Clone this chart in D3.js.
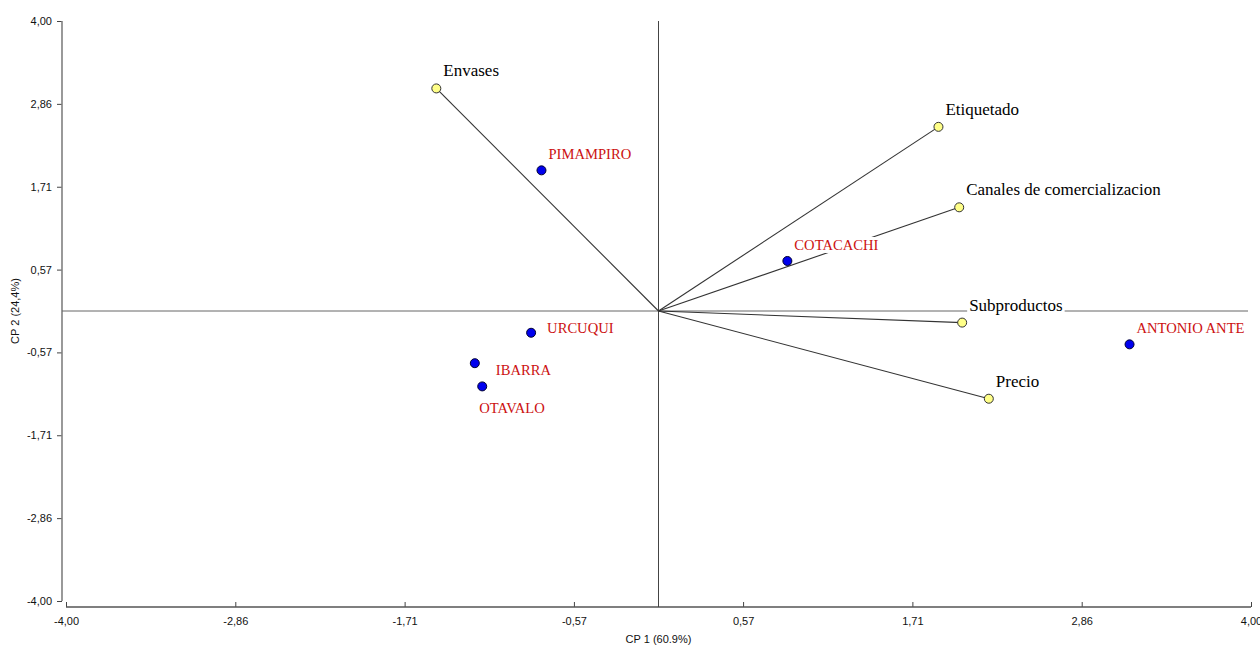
<!DOCTYPE html>
<html>
<head>
<meta charset="utf-8">
<script src="https://cdn.jsdelivr.net/npm/d3@7"></script>
<style>
  html, body { margin: 0; padding: 0; background: #fff; }
  svg { display: block; }
</style>
</head>
<body>
<svg id="chart" width="1260" height="645"></svg>
<script>
// ---- data ----
const variables = ["Envases", "Etiquetado", "Canales de comercializacion", "Subproductos", "Precio"];
const variableCP1 = [-1.50, 1.89, 2.03, 2.05, 2.23];
const variableCP2 = [3.07, 2.54, 1.43, -0.16, -1.21];

const sites = ["PIMAMPIRO", "COTACACHI", "URCUQUI", "IBARRA", "OTAVALO", "ANTONIO ANTE"];
const siteCP1 = [-0.79, 0.87, -0.86, -1.24, -1.19, 3.18];
const siteCP2 = [1.94, 0.69, -0.30, -0.72, -1.04, -0.46];

const tickValues = [-4.00, -2.857, -1.714, -0.571, 0.571, 1.714, 2.857, 4.00];
const tickLabels = ["-4,00", "-2,86", "-1,71", "-0,57", "0,57", "1,71", "2,86", "4,00"];

const xTitle = "CP 1 (60.9%)";
const yTitle = "CP 2 (24,4%)";

// ---- layout ----
const svg = d3.select("#chart");
const x = d3.scaleLinear().domain([-4, 4]).range([66, 1251]);
const y = d3.scaleLinear().domain([-4, 4]).range([601, 21]);
const yAxisX = 62, xAxisY = 607;

// label nudges (layout only, pixels)
const varNudge = { dx: 7, dy: -12 };
const siteNudge = {
  "PIMAMPIRO": [7, -11], "COTACACHI": [7, -11], "URCUQUI": [16, 0],
  "IBARRA": [21, 12], "OTAVALO": [-3, 27], "ANTONIO ANTE": [7, -11]
};

const tickFmt = v => tickLabels[tickValues.indexOf(v)];
const axisColor = "#808080";

// y axis
const gy = svg.append("g").attr("transform", `translate(${yAxisX},0)`)
  .call(d3.axisLeft(y).tickValues(tickValues).tickFormat(tickFmt).tickSize(5).tickPadding(5));
// x axis (ticks pointing up)
const gx = svg.append("g").attr("transform", `translate(0,${xAxisY})`)
  .call(d3.axisBottom(x).tickValues(tickValues).tickFormat(tickFmt).tickSize(-5).tickPadding(10));

[gx, gy].forEach(g => {
  g.select(".domain").remove();
  g.selectAll(".tick line").attr("stroke", "#444").attr("stroke-width", 1);
  g.selectAll(".tick text").attr("font-family", "'Liberation Sans', Arial, sans-serif")
    .attr("font-size", 11).attr("fill", "#111");
});
// axis lines
svg.append("line").attr("x1", yAxisX).attr("x2", yAxisX).attr("y1", y(4)).attr("y2", y(-4))
  .attr("stroke", axisColor).attr("stroke-width", 1.6);
svg.append("line").attr("x1", x(-4)).attr("x2", x(4)).attr("y1", xAxisY).attr("y2", xAxisY)
  .attr("stroke", "#555").attr("stroke-width", 1.6);

// axis titles
svg.append("text").attr("x", x(0)).attr("y", 643).attr("text-anchor", "middle")
  .attr("font-family", "'Liberation Sans', Arial, sans-serif").attr("font-size", 11).attr("fill", "#111")
  .text(xTitle);
svg.append("text").attr("transform", `translate(19,${y(0)}) rotate(-90)`).attr("text-anchor", "middle")
  .attr("font-family", "'Liberation Sans', Arial, sans-serif").attr("font-size", 11).attr("fill", "#111")
  .text(yTitle);

// crosshair through origin
svg.append("line").attr("x1", yAxisX).attr("x2", 1248).attr("y1", y(0)).attr("y2", y(0))
  .attr("stroke", "#666").attr("stroke-width", 1);
svg.append("line").attr("x1", x(0)).attr("x2", x(0)).attr("y1", y(4)).attr("y2", xAxisY)
  .attr("stroke", "#444").attr("stroke-width", 1);

// vectors
const varData = variables.map((n, i) => ({ name: n, cx: variableCP1[i], cy: variableCP2[i] }));
const siteData = sites.map((n, i) => ({ name: n, cx: siteCP1[i], cy: siteCP2[i] }));

svg.append("g").selectAll("line").data(varData).join("line")
  .attr("x1", x(0)).attr("y1", y(0))
  .attr("x2", d => x(d.cx)).attr("y2", d => y(d.cy))
  .attr("stroke", "#333").attr("stroke-width", 1.1);

// labels with white background
function addLabel(g, tx, ty, text, size, color) {
  const lg = g.append("g");
  const rect = lg.append("rect").attr("fill", "#fff");
  const t = lg.append("text").attr("x", tx).attr("y", ty)
    .attr("font-family", "'Liberation Serif', 'Times New Roman', serif")
    .attr("font-size", size).attr("fill", color).text(text);
  const bb = t.node().getBBox();
  rect.attr("x", bb.x - 2).attr("y", bb.y).attr("width", bb.width + 4).attr("height", bb.height);
}
const labels = svg.append("g");
varData.forEach(d => addLabel(labels, x(d.cx) + varNudge.dx, y(d.cy) + varNudge.dy, d.name, 17, "#000"));
siteData.forEach(d => {
  const n = siteNudge[d.name];
  addLabel(labels, x(d.cx) + n[0], y(d.cy) + n[1], d.name, 14.6, "#cc1111");
});

// markers
svg.append("g").selectAll("circle").data(varData).join("circle")
  .attr("cx", d => x(d.cx)).attr("cy", d => y(d.cy)).attr("r", 4.5)
  .attr("fill", "#ffff88").attr("stroke", "#333").attr("stroke-width", 1);
svg.append("g").selectAll("circle").data(siteData).join("circle")
  .attr("cx", d => x(d.cx)).attr("cy", d => y(d.cy)).attr("r", 4.5)
  .attr("fill", "#0000ee").attr("stroke", "#000030").attr("stroke-width", 1);
</script>
</body>
</html>
